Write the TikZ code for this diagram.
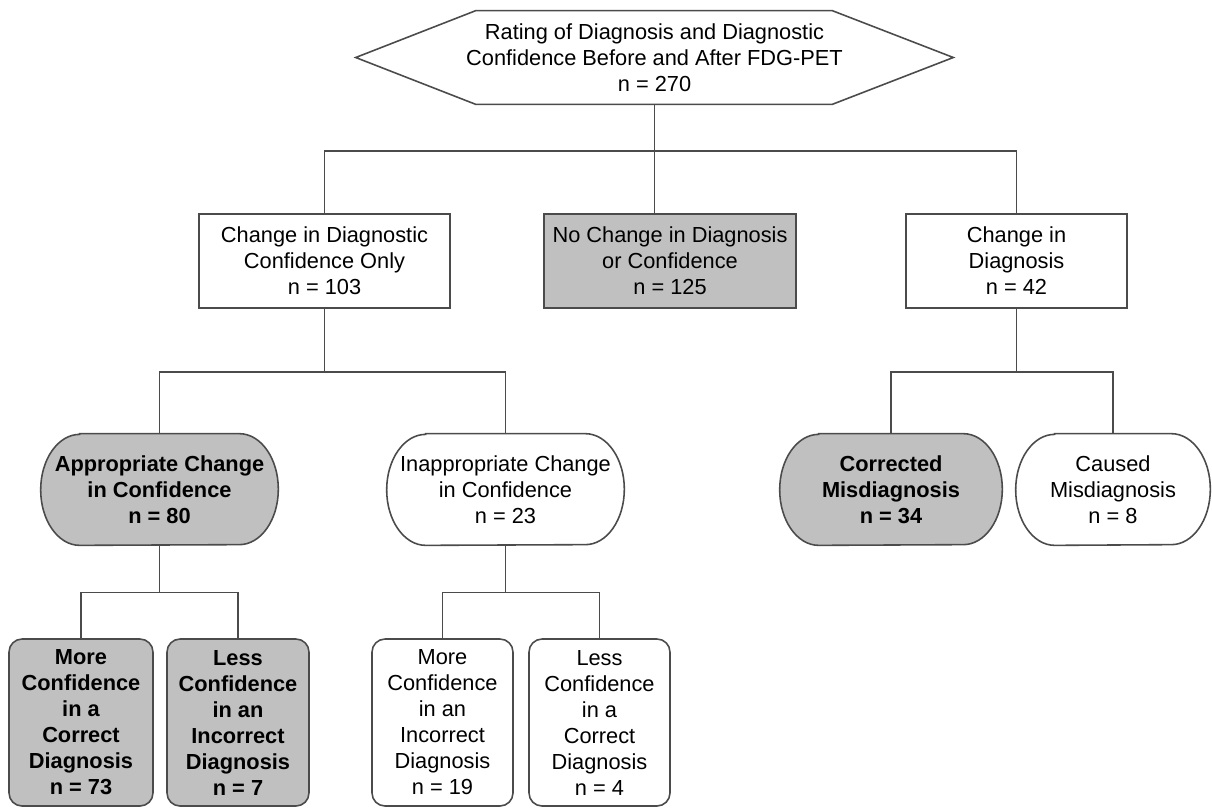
\documentclass[tikz,border=0pt]{standalone}
\usepackage{fontspec}
\setmainfont{Liberation Sans}
\usetikzlibrary{backgrounds}
\definecolor{boxgray}{RGB}{192,192,192}
\definecolor{linegray}{RGB}{75,75,75}
\tikzset{
  txt/.style={align=center,font=\fontsize{12.4}{14.8}\selectfont,inner sep=0pt},
  line/.style={draw=linegray,line width=0.9pt},
  box/.style={txt,line,minimum height=1.88cm},
  stadium/.style={txt,minimum height=2.22cm},
  leaf/.style={txt,line,rounded corners=0.26cm,minimum height=3.34cm},
}
\begin{document}
\begin{tikzpicture}[x=0.02cm,y=-0.02cm]
    \useasboundingbox (0,0) rectangle (1212,809);
    % top
    \node[txt,minimum width=11.94cm,minimum height=1.86cm] (hex) at (654.5,57.5)
        {Rating of Diagnosis and Diagnostic\\Confidence Before and After FDG-PET\\n = 270};
    \draw[line] (hex.west) -- ([shift={(120,0)}]hex.north west) -- ([shift={(-121,0)}]hex.north east)
        -- (hex.east) -- ([shift={(-121,0)}]hex.south east) -- ([shift={(120,0)}]hex.south west) -- cycle;
    % second row
    \node[box,minimum width=5.02cm] (conf) at (324.5,261) {Change in Diagnostic\\Confidence Only\\n = 103};
    \node[box,fill=boxgray,minimum width=5.04cm] (nochg) at (670,261) {No Change in Diagnosis\\or Confidence\\n = 125};
    \node[box,minimum width=4.42cm] (diag) at (1016.5,261) {Change in\\Diagnosis\\n = 42};
    % third row
    \node[stadium,minimum width=4.74cm] (appr) at (159.5,489.5) {\bfseries Appropriate Change\\\bfseries in Confidence\\\bfseries n = 80};
    \node[stadium,minimum width=4.74cm] (inappr) at (505.5,489.5) {Inappropriate Change\\in Confidence\\n = 23};
    \node[stadium,minimum width=4.44cm] (corr) at (891,489.5) {\bfseries Corrected\\\bfseries Misdiagnosis\\\bfseries n = 34};
    \node[stadium,minimum width=3.88cm] (caus) at (1113,489.5) {Caused\\Misdiagnosis\\n = 8};
    \begin{scope}[on background layer]
    \foreach \n/\f in {appr/boxgray,inappr/white,corr/boxgray,caus/white}
        \draw[line,fill=\f] ([shift={(39,0)}]\n.north west) -- ([shift={(-39,0)}]\n.north east)
            arc[start angle=90,end angle=-90,x radius=0.78cm,y radius=1.11cm]
            -- ([shift={(39,0)}]\n.south west)
            arc[start angle=270,end angle=90,x radius=0.78cm,y radius=1.11cm] -- cycle;
    \end{scope}
    % bottom row
    \node[leaf,fill=boxgray,minimum width=2.88cm] (morec) at (81,722.5)
        {\bfseries More\\\bfseries Confidence\\\bfseries in a\\\bfseries Correct\\\bfseries Diagnosis\\\bfseries n = 73};
    \node[leaf,fill=boxgray,minimum width=2.84cm] (lessi) at (238,722.5)
        {\bfseries Less\\\bfseries Confidence\\\bfseries in an\\\bfseries Incorrect\\\bfseries Diagnosis\\\bfseries n = 7};
    \node[leaf,minimum width=2.82cm] (morei) at (442.5,722.5)
        {More\\Confidence\\in an\\Incorrect\\Diagnosis\\n = 19};
    \node[leaf,minimum width=2.82cm] (lessc) at (599.5,722.5)
        {Less\\Confidence\\in a\\Correct\\Diagnosis\\n = 4};
    % connectors
    \draw[line] (hex.south) -- (hex.south |- nochg.north);
    \draw[line] (conf.north) -- ++(0,-62) -| (diag.north);
    \draw[line] (conf.south) -- ++(0,63) coordinate (cb);
    \draw[line] (appr.north) |- (cb) -| (inappr.north);
    \draw[line] (diag.south) -- ++(0,63) coordinate (db);
    \draw[line] (corr.north) |- (db) -| (caus.north);
    \draw[line] (appr.south) -- ++(0,47) coordinate (ab);
    \draw[line] (morec.north) |- (ab) -| (lessi.north);
    \draw[line] (inappr.south) -- ++(0,47) coordinate (ib);
    \draw[line] (morei.north) |- (ib) -| (lessc.north);
\end{tikzpicture}
\end{document}
